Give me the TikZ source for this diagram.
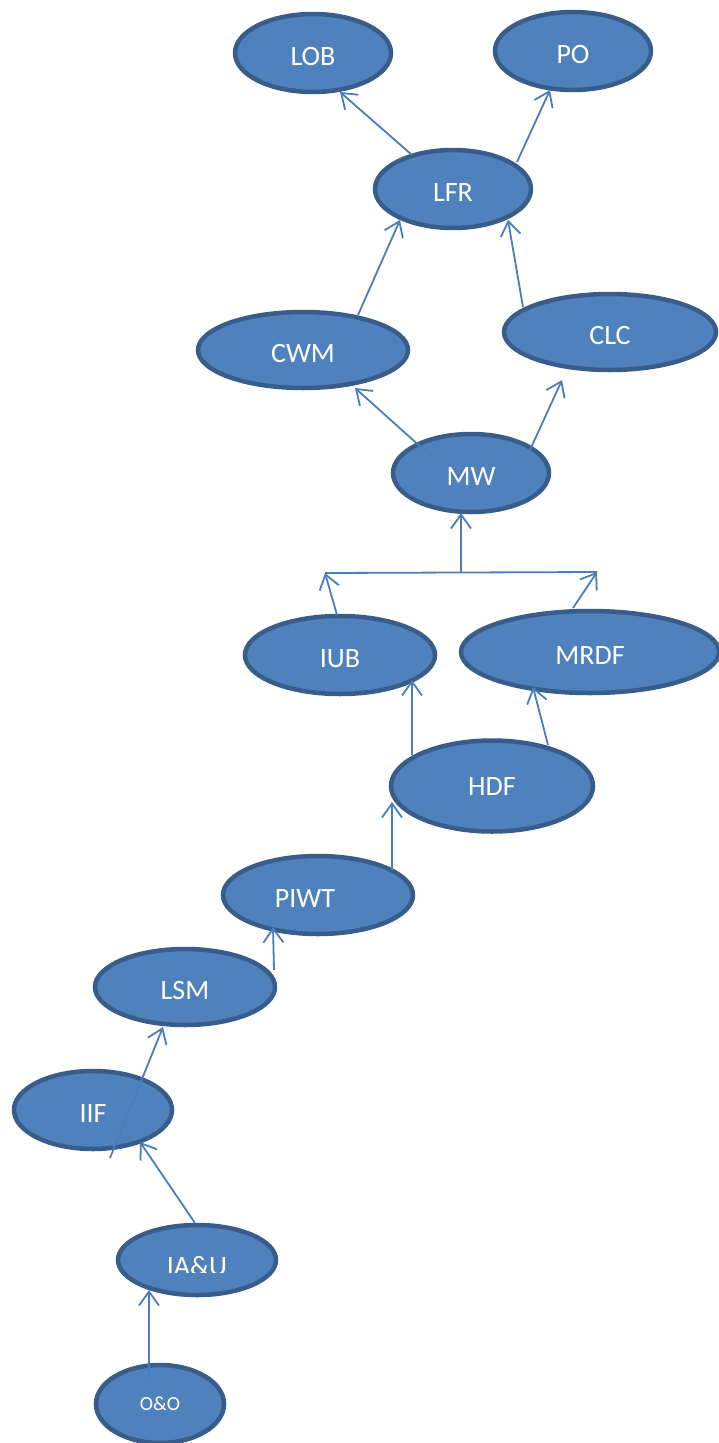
\documentclass[tikz,border=0pt]{standalone}
\usepackage{fontspec}
\setmainfont{Carlito}
\usetikzlibrary{shapes.geometric,arrows.meta,calc}
\definecolor{ellF}{HTML}{4F81BD}
\definecolor{ellB}{HTML}{385D8A}
\definecolor{arrC}{HTML}{4A7EBB}
\begin{document}
\begin{tikzpicture}[x=1pt,y=-1pt,
  oval/.style={ellipse, draw=ellB, fill=ellF, line width=4.5pt, text=white,
    font=\fontsize{28}{32}\selectfont, inner sep=0pt, text height=25pt, text depth=0pt},
  ovaltext/.style={text=white, font=\fontsize{28}{32}\selectfont, inner sep=0pt},
  conn/.style={draw=arrC, line width=1.8pt, -{Straight Barb[length=14pt,width=20pt]}},
  plainline/.style={draw=arrC, line width=1.8pt}]
\useasboundingbox (0,0) rectangle (718,1443);

\node[oval, minimum width=156pt, minimum height=78pt] (lob) at (313,53) {LOB};
\node[oval, minimum width=156pt, minimum height=78pt] (po) at (573,51) {PO};
\node[oval, minimum width=156pt, minimum height=78pt] (lfr) at (453,189) {LFR};
\node[oval, minimum width=210pt, minimum height=76pt] (cwm) at (303,350) {CWM};
\node[oval, minimum width=212pt, minimum height=76pt] (clc) at (610,332) {CLC};
\node[oval, minimum width=156pt, minimum height=78pt] (mw) at (471,473) {MW};
\node[oval, minimum width=190pt, minimum height=78pt] (iub) at (340,655) {IUB};
\node[oval, minimum width=258pt, minimum height=82pt] (mrdf) at (590,652) {MRDF};
\node[oval, minimum width=202pt, minimum height=91pt, text height=18pt] (hdf) at (492,786) {HDF};
\node[oval, minimum width=190pt, minimum height=78pt] (piwt) at (318,895) {\hspace*{-26pt}PIWT};
\node[oval, minimum width=180pt, minimum height=76pt] (lsm) at (185,987) {LSM};
\node[oval, minimum width=158pt, minimum height=78pt] (iif) at (93,1110) {IIF};
\node[oval, minimum width=158pt, minimum height=70pt] (iau) at (197,1260) {};
\begin{scope}
  \clip (110,1200) rectangle (290,1272.5);
  \node[ovaltext, anchor=base] (iautext) at (197,1275.5) {IA\&U};
\end{scope}
\node[oval, minimum width=128pt, minimum height=78pt, font=\fontsize{20}{24}\selectfont, text height=13pt] (oo) at (160,1404) {O\&O};

\coordinate (forkL) at (325,573);
\coordinate (forkR) at (597,572);
\coordinate (forkM) at (461,572);
\coordinate (lsmstart) at (110,1158);

\draw[conn] ($(lfr.center)+(-41,-34)$) -- ($(lob.center)+(27,39)$);
\draw[conn] ($(lfr.center)+(64,-27)$) -- ($(po.center)+(-23,39)$);
\draw[conn] ($(cwm.center)+(55,-35)$) -- ($(lfr.center)+(-53,31)$);
\draw[conn] ($(clc.center)+(-87,-25)$) -- ($(lfr.center)+(55,31)$);
\draw[conn] ($(mw.center)+(-39,-16)$) -- ($(cwm.center)+(52,38)$);
\draw[conn] ($(mw.center)+(59,-23)$) -- ($(clc.center)+(-48,48)$);
\draw[conn] (forkM) -- ($(mw.center)+(-10,40)$);
\draw[plainline] (forkL) -- (forkR);
\draw[conn] ($(iub.center)+(-3,-40)$) -- (forkL);
\draw[conn] ($(mrdf.center)+(-17,-44)$) -- (forkR);
\draw[conn] ($(hdf.center)+(-80,-31)$) -- ($(iub.center)+(72,25)$);
\draw[conn] ($(hdf.center)+(56,-41)$) -- ($(mrdf.center)+(-57,35)$);
\draw[conn] ($(piwt.center)+(74,-25)$) -- ($(hdf.center)+(-100,16)$);
\draw[conn] ($(lsm.center)+(89,-17)$) -- ($(piwt.center)+(-45,32)$);
\draw[conn] (lsmstart) -- ($(lsm.center)+(-22,40)$);
\draw[conn] ($(iau.center)+(-2,-37)$) -- ($(iif.center)+(47,32)$);
\draw[conn] ($(oo.center)+(-11,-24)$) -- ($(iau.center)+(-48,30)$);
\end{tikzpicture}
\end{document}
